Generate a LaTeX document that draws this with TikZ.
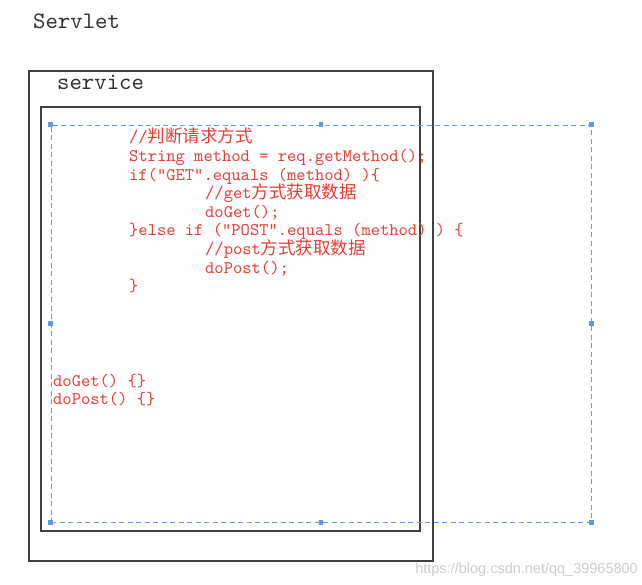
\documentclass[tikz,border=0pt]{standalone}
\usepackage{fontspec}
\setmainfont{Liberation Serif}
\newfontfamily\codefont{lmmono10-regular.otf}
\newfontfamily\cjkfont{Noto Sans CJK SC}
\newfontfamily\wmfont{Liberation Sans}
\definecolor{codered}{RGB}{232,62,52}
\definecolor{selblue}{RGB}{90,155,230}
\definecolor{boxgray}{RGB}{64,64,64}
\definecolor{titlegray}{RGB}{50,50,50}
\definecolor{wmgray}{RGB}{205,205,205}
\newcommand\zhtext[1]{{\cjkfont\fontsize{17.5}{18}\selectfont #1}}
\tikzset{
  box/.style={draw=boxgray, line width=1.3pt, inner sep=0pt},
  selbox/.style={draw=selblue, line width=0.85pt, dash pattern=on 5pt off 3.5pt, inner sep=0pt},
  handle/.style={fill=selblue, minimum size=4.5pt, inner sep=0pt},
  code/.style={anchor=base west, inner sep=0pt, text=codered, font=\codefont\fontsize{17.7}{18}\selectfont},
  title/.style={anchor=base west, inner sep=0pt, text=titlegray, font=\codefont\fontsize{23.6}{24}\selectfont},
  wm/.style={anchor=base east, inner sep=0pt, text=wmgray, font=\wmfont\fontsize{14.5}{16}\selectfont}
}
\begin{document}
\begin{tikzpicture}[x=1pt,y=-1pt]
\useasboundingbox[fill=white] (0,0) rectangle (642,585);

\node[title] (servlet) at (33,29) {Servlet};
\node[box, minimum width=404pt, minimum height=490pt] (outer) at (231,316) {};
\node[title] (service) at (57,90) {service};
\node[box, minimum width=379pt, minimum height=424pt] (inner) at (230.5,319) {};
\node[selbox, minimum width=540pt, minimum height=397pt] (sel) at (321,323.5) {};
\foreach \a [count=\i] in {north west,north,north east,west,east,south west,south,south east}
  \node[handle] (h\i) at (sel.\a) {};

\node[code] (l1) at (129,143.0) {//\zhtext{判断请求方式}};
\node[code] (l2) at (129,161.6) {String method = req.getMethod();};
\node[code] (l3) at (129,180.2) {if(”GET”.equals (method) )\{};
\node[code] (l4) at (205,198.8) {//get\zhtext{方式获取数据}};
\node[code] (l5) at (205,217.4) {doGet();};
\node[code] (l6) at (129,236.0) {\}else if (”POST”.equals (method) ) \{};
\node[code] (l7) at (205,254.6) {//post\zhtext{方式获取数据}};
\node[code] (l8) at (205,273.2) {doPost();};
\node[code] (l9) at (129,291.8) {\}};

\node[code] (dg) at (53,386) {doGet() \{\}};
\node[code] (dp) at (53,404) {doPost() \{\}};

\node[wm] (mark) at (638,573) {https://blog.csdn.net/qq\_39965800};
\end{tikzpicture}
\end{document}
